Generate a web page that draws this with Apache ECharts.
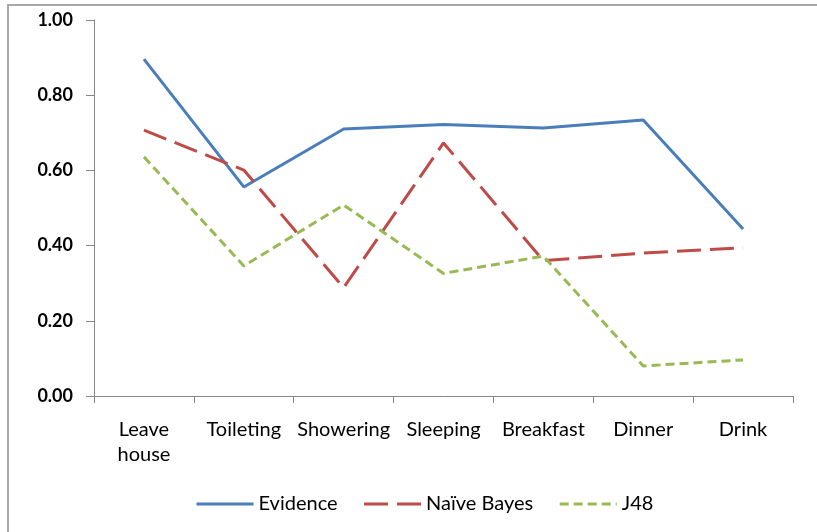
<!DOCTYPE html>
<html>
<head>
<meta charset="utf-8">
<script src="https://cdn.jsdelivr.net/npm/echarts@6/dist/echarts.min.js"></script>
<style>
html,body{margin:0;padding:0;background:#fff;}
#chart{width:817px;height:532px;}
</style>
</head>
<body>
<div id="chart"></div>
<script>
var categories = ['Leave\nhouse', 'Toileting', 'Showering', 'Sleeping', 'Breakfast', 'Dinner', 'Drink'];
var evidence = [0.896, 0.556, 0.71, 0.722, 0.713, 0.734, 0.444];
var naiveBayes = [0.707, 0.601, 0.288, 0.673, 0.36, 0.38, 0.394];
var j48 = [0.636, 0.346, 0.508, 0.326, 0.372, 0.08, 0.096];
var seriesNames = ['Evidence', 'Naïve Bayes', 'J48'];

var chart = echarts.init(document.getElementById('chart'));
var font = 'Lato';
chart.setOption({
  animation: false,
  backgroundColor: '#fff',
  graphic: [{
    type: 'rect', silent: true, z: -1,
    shape: {x: 8, y: 5, width: 900, height: 600},
    style: {fill: 'none', stroke: '#a8a8a8', lineWidth: 2}
  }],
  grid: {left: 94, right: 24, top: 20, bottom: 136, containLabel: false},
  legend: {
    left: 195, top: 494, padding: 0,
    itemWidth: 57, itemHeight: 14, itemGap: 25,
    itemStyle: {opacity: 0},
    lineStyle: {width: 3},
    textStyle: {fontFamily: font, fontSize: 20, color: '#000'},
    data: seriesNames
  },
  xAxis: {
    type: 'category', data: categories, boundaryGap: true,
    axisLine: {lineStyle: {color: '#868686', width: 1}},
    axisTick: {show: true, length: 7, lineStyle: {color: '#868686'}},
    axisLabel: {fontFamily: font, fontSize: 20, color: '#000', margin: 21, lineHeight: 25, interval: 0}
  },
  yAxis: {
    type: 'value', min: 0, max: 1, interval: 0.2,
    splitLine: {show: false},
    axisLine: {show: true, lineStyle: {color: '#868686', width: 1}},
    axisTick: {show: true, length: 8, lineStyle: {color: '#868686'}},
    axisLabel: {fontFamily: font, fontSize: 18, fontWeight: 'bold', color: '#000', margin: 21,
      formatter: function (v) { return v.toFixed(2); }}
  },
  series: [
    {name: seriesNames[0], type: 'line', data: evidence, symbol: 'none',
      lineStyle: {color: '#4a7ebb', width: 3}, itemStyle: {color: '#4a7ebb'}},
    {name: seriesNames[1], type: 'line', data: naiveBayes, symbol: 'none',
      lineStyle: {color: '#be4b48', width: 3, type: [24, 9]}, itemStyle: {color: '#be4b48'}},
    {name: seriesNames[2], type: 'line', data: j48, symbol: 'none',
      lineStyle: {color: '#98b954', width: 3, type: [9, 5]}, itemStyle: {color: '#98b954'}}
  ]
});
</script>
</body>
</html>
